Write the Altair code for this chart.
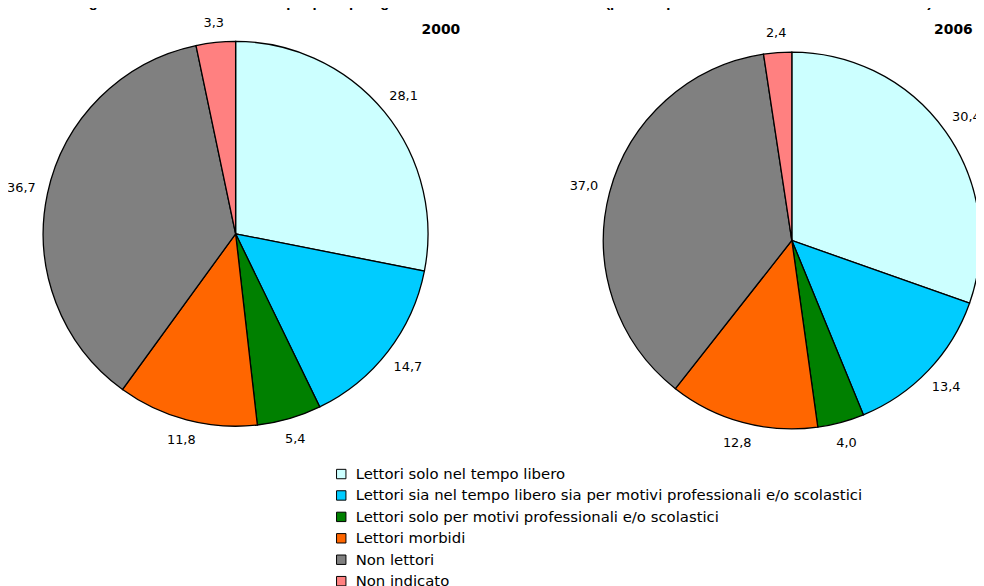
import math
import altair as alt
import pandas as pd

categories = [
    "Lettori solo nel tempo libero",
    "Lettori sia nel tempo libero sia per motivi professionali e/o scolastici",
    "Lettori solo per motivi professionali e/o scolastici",
    "Lettori morbidi",
    "Non lettori",
    "Non indicato",
]
values_2000 = [28.1, 14.7, 5.4, 11.8, 36.7, 3.3]
values_2006 = [30.4, 13.4, 4.0, 12.8, 37.0, 2.4]
colors = ["#CCFFFF", "#00CCFF", "#008000", "#FF6600", "#808080", "#FF8080"]
years = ["2000", "2006"]
title_text = ("Figura 3 - Persone di 6 anni e più per tipologia di lettore - Anni 2000 e 2006 "
              "(per 100 persone con le stesse caratteristiche)")

FONT = "DejaVu Sans"

color_scale = alt.Scale(domain=categories, range=colors)
legend = alt.Legend(
    orient="none", legendX=328.5, legendY=460, title=None,
    symbolType="square", symbolSize=90, symbolStrokeColor="black",
    symbolStrokeWidth=1, symbolOpacity=1, labelFontSize=15, labelFont=FONT,
    labelColor="black", rowPadding=5.6, labelLimit=0, padding=0, offset=0,
    labelOffset=7,
)


def pie(values, cx, cy, r, show_legend):
    total = sum(values)
    df = pd.DataFrame({
        "cat": categories,
        "val": values,
        "ord": list(range(len(values))),
        "lab": [f"{v:.1f}".replace(".", ",") for v in values],
    })
    arc = alt.Chart(df).mark_arc(outerRadius=r, stroke="black", strokeWidth=1.3).encode(
        theta=alt.Theta("val:Q", stack=True),
        order=alt.Order("ord:Q"),
        x=alt.value(cx),
        y=alt.value(cy),
        color=alt.Color("cat:N", scale=color_scale, legend=legend if show_legend else None),
    )
    # labels just outside the rim; a wider gap where the text extends sideways
    text = alt.Chart(df).transform_window(
        cum="sum(val)", sort=[alt.SortField("ord")], frame=[None, 0]
    ).transform_calculate(
        mid="datum.cum - datum.val / 2",
        lr=f"{r + 19} + 8 * abs(sin(datum.mid / {total} * 2 * PI))",
    ).mark_text(font=FONT, fontSize=13, color="black").encode(
        theta=alt.Theta("mid:Q", stack=False,
                        scale=alt.Scale(domain=[0, total], range=[0, 2 * math.pi])),
        radius=alt.Radius("lr:Q", scale=None),
        x=alt.value(cx),
        y=alt.value(cy),
        text="lab:N",
    )
    return alt.layer(arc, text).resolve_scale(theta="independent")


pie1 = pie(values_2000, 229.5, 225.3, 194, True)
pie2 = pie(values_2006, 790.3, 232, 190, False)

year_df = pd.DataFrame({"year": years, "px": [436.5, 953.2]})
year_text = alt.Chart(year_df).mark_text(
    font=FONT, fontSize=14, fontWeight="bold", color="black"
).encode(x=alt.X("px:Q", scale=None), y=alt.value(19.7), text="year:N")

title_df = pd.DataFrame({"t": [title_text]})
title_mark = alt.Chart(title_df).mark_text(
    font="Liberation Sans", fontSize=15, fontWeight="bold", color="black",
    align="center", baseline="alphabetic"
).encode(x=alt.value(500), y=alt.value(-3), text="t:N")

chart = alt.layer(pie1, pie2, year_text, title_mark).resolve_scale(theta="independent").properties(
    width=976, height=578, autosize="none", padding=0
).configure_view(stroke=None)

chart.save("out.html", embed_options={"renderer": "svg", "actions": False})
